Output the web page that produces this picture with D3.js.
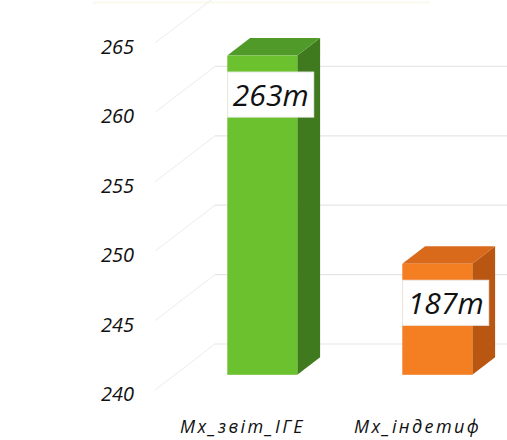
<!DOCTYPE html>
<html>
<head>
<meta charset="utf-8">
<script src="https://cdn.jsdelivr.net/npm/d3@7"></script>
<style>
  html, body { margin: 0; padding: 0; background: #ffffff; }
  svg { display: block; }
  .lbl { font-family: "Open Sans", "Noto Sans", sans-serif; font-style: italic; fill: #111; }
</style>
</head>
<body>
<svg id="chart" width="507" height="440"></svg>
<script>
// Categories, values and the printed data labels
const categories = ["Мх_звіт_ІГЕ", "Мх_індетиф"];
const values = [263, 248];
const valueLabels = ["263т", "187т"];
const tickValues = [240, 245, 250, 255, 260, 265];

// Bar colours: front, top, side faces
const faceColors = [
  { front: "#6cc12f", top: "#4f9a28", side: "#3f7a1f" },
  { front: "#f47e22", top: "#d96a1c", side: "#b85612" }
];

const svg = d3.select("#chart");

// Plot front plane and the oblique depth vector of the 3D box
const front = { left: 155, right: 505 };
const depth = { dx: 60, dy: -46 };
const barDepth = { t0: 0.33, t1: 0.71 };

const y = d3.scaleLinear().domain([240, 265]).range([390, 43]);
const x = d3.scaleBand().domain(categories)
  .range([front.left, front.right])
  .paddingInner(0.6).paddingOuter(0.3);

const P = (px, py, t) => [px + depth.dx * t, py + depth.dy * t];

// Faint strip at the very top
svg.append("line")
  .attr("x1", 93).attr("x2", 430).attr("y1", 2.5).attr("y2", 2.5)
  .attr("stroke", "#fcfbf3").attr("stroke-width", 3);

// Gridlines: side wall diagonal + back wall horizontal
const grid = svg.append("g");
tickValues.forEach(v => {
  const a = P(front.left, y(v), 0);
  const b = P(front.left, y(v), 1);
  const c = P(front.right, y(v), 1);
  grid.append("path")
    .attr("d", d3.line()([a, b]))
    .attr("fill", "none")
    .attr("stroke", "#ececec")
    .attr("stroke-width", 1);
  grid.append("path")
    .attr("d", d3.line()([b, c]))
    .attr("fill", "none")
    .attr("stroke", "#e6e6e6")
    .attr("stroke-width", 1.2);
});

// Y axis tick labels
const yAxis = d3.axisLeft(y).tickValues(tickValues).tickSize(0).tickPadding(0);
const axisG = svg.append("g")
  .attr("transform", `translate(${front.left - 21},4)`)
  .call(yAxis);
axisG.select(".domain").remove();
axisG.selectAll("text")
  .attr("class", "lbl")
  .style("font-size", "20px")
  .attr("fill", "#111");

// 3D bars
const bars = svg.append("g");
categories.forEach((cat, i) => {
  const col = faceColors[i];
  const x0 = x(cat), x1 = x0 + x.bandwidth();
  const yt = y(values[i]), yb = y(240);
  const fTL = P(x0, yt, barDepth.t0), fTR = P(x1, yt, barDepth.t0);
  const fBR = P(x1, yb, barDepth.t0);
  const bTL = P(x0, yt, barDepth.t1), bTR = P(x1, yt, barDepth.t1);
  const bBR = P(x1, yb, barDepth.t1);
  const line = d3.line();

  // side face
  bars.append("path").attr("d", line([fTR, bTR, bBR, fBR]) + "Z").attr("fill", col.side);
  // top face
  bars.append("path").attr("d", line([fTL, bTL, bTR, fTR]) + "Z").attr("fill", col.top);
  // front face
  bars.append("rect")
    .attr("x", fTL[0]).attr("y", fTL[1])
    .attr("width", fTR[0] - fTL[0]).attr("height", fBR[1] - fTR[1])
    .attr("fill", col.front);

  // value label box
  const bw = 86, bh = 45;
  const cx = (fTL[0] + bTR[0]) / 2 - 3;
  const cy = fTL[1] + 39;
  bars.append("rect")
    .attr("x", cx - bw / 2).attr("y", cy - bh / 2)
    .attr("width", bw).attr("height", bh)
    .attr("fill", "#ffffff")
    .attr("stroke", "#eeeeee").attr("stroke-width", 1);
  bars.append("text")
    .attr("class", "lbl")
    .attr("x", cx).attr("y", cy)
    .attr("text-anchor", "middle")
    .attr("dominant-baseline", "central")
    .style("font-size", "30px")
    .text(valueLabels[i]);
});

// Category labels along the front edge of the floor
const xAxis = d3.axisBottom(x).tickSize(0).tickPadding(0);
const xg = svg.append("g")
  .attr("transform", `translate(0,${y(240) + 30})`)
  .call(xAxis);
xg.select(".domain").remove();
xg.selectAll("text")
  .attr("class", "lbl")
  .style("font-size", "18px")
  .style("letter-spacing", "2.4px")
  .attr("fill", "#111");
</script>
</body>
</html>
